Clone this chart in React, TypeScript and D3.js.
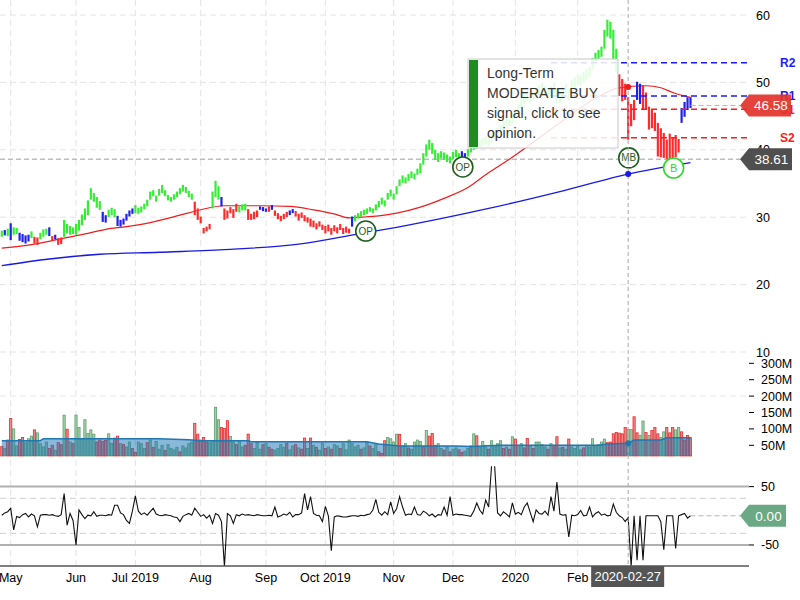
import React, { useEffect, useRef } from 'react';
import * as d3 from 'd3';

const FIRST_INDEX = -3; // first session sits 3 days before May 1, 2019 (index 0)

// [low, high, trend] per session; g = bullish, r = bearish, b = neutral
const priceBars: [number, number, string][] = [
  // late Apr 2019
  [27.1, 28.0, 'g'], [27.3, 28.1, 'b'], [27.2, 28.3, 'g'],
  // May
  [26.6, 29.1, 'b'], [27.4, 28.5, 'g'], [27.5, 28.4, 'g'], [26.5, 27.7, 'b'], [26.3, 27.5, 'b'], [26.1, 27.3, 'b'],
  [26.4, 27.4, 'b'], [26.9, 27.9, 'g'], [26.1, 27.1, 'r'], [25.9, 27.0, 'r'], [26.7, 27.7, 'g'], [27.1, 28.2, 'g'],
  [27.4, 28.3, 'g'], [27.2, 28.5, 'b'], [26.5, 27.2, 'r'], [26.7, 27.4, 'b'], [25.9, 26.9, 'r'], [26.0, 27.0, 'r'],
  [27.1, 29.6, 'g'], [27.6, 29.0, 'g'], [27.4, 28.7, 'g'], [27.5, 28.5, 'g'],
  // Jun
  [27.4, 29.0, 'g'], [28.0, 29.6, 'g'], [28.8, 30.4, 'g'], [29.6, 31.3, 'g'], [30.3, 32.5, 'g'], [32.6, 34.3, 'g'],
  [32.3, 33.6, 'g'], [31.4, 33.0, 'g'], [31.1, 32.4, 'g'], [29.3, 30.8, 'b'], [29.2, 30.3, 'b'], [30.0, 31.1, 'g'],
  [30.3, 31.4, 'g'], [30.0, 31.2, 'g'], [28.7, 30.2, 'b'], [28.6, 29.6, 'b'], [28.9, 29.8, 'b'], [29.5, 30.5, 'b'],
  [30.1, 31.0, 'b'], [30.5, 31.3, 'b'],
  // Jul
  [30.6, 31.8, 'g'], [30.5, 31.4, 'g'], [30.7, 31.6, 'g'], [31.2, 32.0, 'g'], [31.6, 32.6, 'g'], [32.6, 33.8, 'g'],
  [33.1, 34.0, 'g'], [32.3, 33.2, 'g'], [33.2, 34.2, 'g'], [33.6, 34.8, 'g'], [33.1, 34.0, 'g'], [32.5, 33.3, 'g'],
  [32.3, 33.0, 'g'], [32.6, 33.4, 'g'], [33.0, 33.8, 'g'], [33.4, 34.3, 'g'], [33.8, 34.8, 'g'], [33.6, 34.5, 'g'],
  [33.0, 33.9, 'g'], [32.6, 33.5, 'g'], [30.3, 32.3, 'r'], [29.6, 31.3, 'r'],
  // Aug
  [29.1, 30.1, 'r'], [27.6, 28.4, 'r'], [27.9, 28.6, 'r'], [28.2, 29.0, 'r'], [31.3, 33.8, 'g'], [33.0, 35.4, 'g'],
  [32.6, 34.6, 'g'], [31.6, 33.0, 'b'], [29.6, 31.3, 'r'], [29.8, 31.0, 'r'], [30.6, 31.5, 'r'], [29.9, 31.2, 'r'],
  [30.8, 32.0, 'r'], [30.7, 31.6, 'g'], [31.0, 31.9, 'g'], [31.0, 32.0, 'g'], [29.6, 31.2, 'r'], [29.6, 30.5, 'r'],
  [29.7, 30.8, 'r'], [30.0, 31.0, 'r'], [31.1, 31.6, 'b'], [30.9, 31.5, 'b'],
  // Sep
  [30.8, 31.3, 'b'], [30.8, 31.6, 'r'], [31.1, 31.8, 'b'], [30.2, 31.0, 'r'], [29.7, 30.6, 'r'], [29.4, 30.2, 'r'],
  [29.7, 30.5, 'r'], [30.0, 30.8, 'r'], [30.3, 31.0, 'b'], [30.6, 31.2, 'b'], [30.1, 30.9, 'r'], [29.5, 30.5, 'r'],
  [29.9, 30.7, 'r'], [29.4, 30.3, 'r'], [29.2, 30.0, 'r'], [28.6, 29.8, 'r'], [28.5, 29.5, 'r'], [28.2, 29.1, 'r'],
  [28.6, 29.4, 'r'], [28.1, 28.9, 'r'],
  // Oct
  [27.6, 28.7, 'r'], [27.9, 28.9, 'r'], [27.4, 28.4, 'r'], [27.9, 28.8, 'r'], [27.6, 28.5, 'r'], [28.1, 29.0, 'r'],
  [27.5, 28.4, 'r'], [27.7, 28.6, 'r'], [27.6, 28.3, 'r'], [28.6, 30.1, 'b'], [29.4, 30.3, 'g'], [29.8, 30.6, 'g'],
  [30.1, 30.9, 'g'], [30.3, 31.1, 'g'], [30.5, 31.3, 'g'], [30.8, 31.5, 'g'], [30.6, 31.3, 'g'], [31.0, 31.9, 'g'],
  [31.5, 32.4, 'g'], [31.9, 32.9, 'g'], [31.6, 32.5, 'g'], [32.6, 33.6, 'g'], [33.1, 34.1, 'g'],
  // Nov
  [32.6, 33.5, 'g'], [33.4, 34.6, 'g'], [34.6, 35.6, 'g'], [35.1, 36.2, 'g'], [35.0, 35.9, 'g'], [35.4, 36.4, 'g'],
  [35.8, 36.8, 'g'], [35.6, 36.5, 'g'], [36.3, 37.2, 'g'], [36.5, 38.0, 'g'], [37.8, 39.5, 'g'], [39.0, 40.8, 'g'],
  [40.0, 41.5, 'g'], [39.4, 41.0, 'g'], [38.5, 40.0, 'g'], [38.2, 39.5, 'g'], [38.7, 39.8, 'g'], [38.5, 39.6, 'g'],
  [38.2, 39.3, 'g'], [38.0, 39.0, 'g'],
  // Dec
  [38.6, 39.7, 'g'], [38.9, 40.0, 'g'], [38.5, 39.5, 'g'], [38.9, 39.8, 'b'], [38.6, 39.5, 'b'], [39.0, 40.1, 'g'],
  [39.6, 40.6, 'g'], [40.0, 41.0, 'g'], [40.2, 41.3, 'g'], [40.4, 41.5, 'g'], [40.7, 41.8, 'g'], [40.8, 42.0, 'g'],
  [40.6, 41.7, 'g'], [41.0, 42.4, 'g'], [41.6, 42.8, 'g'], [42.0, 43.3, 'g'], [42.5, 43.7, 'g'], [43.0, 44.4, 'g'],
  [43.6, 44.9, 'g'], [43.5, 44.6, 'g'], [44.0, 45.3, 'g'],
  // Jan 2020
  [44.6, 46.0, 'g'], [45.3, 46.8, 'g'], [46.0, 47.6, 'g'], [46.8, 48.3, 'g'], [47.3, 48.9, 'g'], [47.0, 48.5, 'g'],
  [47.4, 48.8, 'g'], [47.8, 49.2, 'g'], [48.1, 49.6, 'g'], [48.4, 49.9, 'g'], [48.0, 49.5, 'g'], [47.4, 49.0, 'g'],
  [47.8, 49.4, 'g'], [48.5, 50.0, 'g'], [47.0, 49.2, 'g'], [46.9, 48.7, 'g'], [47.6, 49.3, 'g'], [48.4, 49.8, 'g'],
  [47.3, 49.0, 'g'], [48.6, 50.3, 'g'], [49.1, 50.8, 'g'],
  // Feb
  [49.6, 51.2, 'g'], [49.5, 51.0, 'g'], [50.0, 51.6, 'g'], [50.5, 52.0, 'g'], [50.8, 52.3, 'g'], [52.0, 53.6, 'g'],
  [53.2, 54.4, 'g'], [53.5, 54.8, 'g'], [53.8, 55.3, 'g'], [55.0, 57.8, 'g'], [56.8, 59.3, 'g'], [56.5, 59.0, 'g'],
  [53.3, 57.8, 'g'], [51.5, 55.0, 'g'], [48.0, 51.2, 'r'], [47.2, 50.5, 'r'], [47.4, 49.8, 'r'], [41.5, 47.8, 'r'],
  [43.5, 46.8, 'r'],
  // Mar
  [44.4, 47.4, 'r'], [47.4, 50.1, 'b'], [46.8, 49.8, 'b'], [45.9, 49.6, 'r'], [46.0, 48.5, 'r'], [43.0, 46.4, 'r'],
  [43.2, 46.0, 'r'], [42.8, 45.5, 'r'], [39.0, 44.0, 'r'], [38.9, 43.2, 'r'], [38.8, 42.5, 'r'], [38.6, 41.5, 'r'],
  [38.6, 42.4, 'r'], [38.8, 41.8, 'r'], [38.9, 42.2, 'r'], [39.6, 41.6, 'r'], [44.0, 46.2, 'b'], [44.9, 47.1, 'b'],
  [45.9, 47.8, 'b'], [46.2, 47.8, 'b'],
];

// volume in millions, negative = down session
const volumes: number[] = [
  -46, 40, -66,
  -132, 100, 48, -68, -74, 58, 70, 78, -97, 88, 55, 45, 60, -40, -50, 35, -58, -52, 142, -99, 60, -55,
  142, 104, 70, 128, 86, 97, 84, -60, -66, -62, -65, 85, 56, -72, -78, 55, -52, 45, 60, -40,
  -28, 60, 55, 40, -58, 66, -44, 62, 38, 50, -34, 52, 40, 36, 44, -30, 48, 42, 55, 60, -117, -84,
  -66, -74, -60, 58, 65, 166, 128, -104, -101, -125, 77, 60, -52, 62, 45, -50, -84, -55, 40, 60, 38, -52,
  55, -44, -38, 35, 40, 52, 44, -56, 36, 48, -52, 42, -38, -72, 40, -72, 50, -44, 35, 56,
  -40, 45, -38, 52, 48, -40, 55, 36, 66, 55, 45, 50, -38, 42, 60, -48, 40, 55, -30, -25, -64, 74, 70,
  60, 84, -83, 48, 55, -42, 38, 60, 66, 62, -45, 95, -78, -86, -50, 55, 40, -35, 45, -30,
  38, 42, -36, -28, 32, 40, -48, 85, -79, 45, 62, 50, -38, 64, 48, 55, 64, -40, 45, -38, 76,
  -69, 50, 55, -42, -71, 48, -40, 60, 60, 52, 45, -38, 55, -50, -76, 42, -44, 38, -69, 45, 40,
  48, 36, -42, 50, 45, 70, 48, 52, 60, 69, -58, -60, -85, -89, -87, -85, -104, 98, 98,
  -137, -88, 80, 124, -89, 80, -95, -104, -85, 74, 91, -104, -88, -104, 97, 104, -91, -66, -80, -73,
];

const oscillator: number[] = [
  1, 5, 7,
  13, -24, -1, -3, 2, 4, -2, 3, 0, -19, 1, 2, 2, 1, 2, 0, -1, 2, 38, -16, 4, -8,
  -50, 10, 2, -5, 1, 0, 7, -1, 1, 1, 0, 2, 1, 18, 18, 5, 2, -8, -13, 8,
  34, 8, 2, 5, 1, 7, 13, 3, 1, 0, 2, 1, 0, -2, -3, -10, -1, 2, 4, 1, 13, 6,
  -1, 2, -4, 1, -13, 4, 1, -10, -87, 4, 0, -13, 2, 0, 3, 1, 2, 1, 0, 2, 1, 0,
  0, 1, 0, 15, -2, 0, 3, 1, 6, -2, 2, 2, 5, 38, 10, 33, 4, 1, 0, -10,
  16, 0, -60, -2, 0, -1, -2, -2, -1, 0, 0, -1, 1, 0, 2, 3, 10, 28, 6, 1, 7, 2, 24,
  4, 12, 33, 15, 1, 3, 2, 15, 2, 1, 8, 5, 0, 3, -2, 2, 1, 15, 1, 33,
  1, 3, 2, 2, 1, 0, -1, 8, 22, 10, 3, 27, 15, 87, 87, 5, 0, 7, 3, -2, 22,
  3, 6, 2, 15, 22, 6, -10, 10, 4, 3, 8, 1, 33, 8, 58, 3, 1, 2, -36, 1, 0,
  2, 9, 0, 1, 15, -2, 4, 7, 1, 3, 0, 1, 20, 6, 0, -3, -10, -3, -87,
  0, -76, 0, -76, 0, 0, 0, 0, 0, -10, -58, 0, 0, 0, -56, 0, 2, 4, -4, 0,
];

const monthLabels = ['May', 'Jun', 'Jul 2019', 'Aug', 'Sep', 'Oct 2019', 'Nov', 'Dec', '2020', 'Feb'];
const monthIndex = [0, 22, 42, 64, 86, 106, 129, 149, 170, 191];

const redMaIndex = [-3, 8, 18, 26, 32, 39, 47, 57, 63, 72, 84, 94, 102, 109, 114, 118, 124, 130, 138, 146, 154, 160, 168, 185, 196, 205, 214, 219, 223, 226, 229];
const redMaValue = [25.4, 26.0, 26.9, 27.6, 28.2, 28.6, 29.2, 30.3, 31.0, 31.7, 31.7, 31.6, 31.1, 30.5, 29.9, 30.0, 30.2, 30.6, 31.5, 32.8, 34.4, 36.3, 38.6, 44.0, 47.4, 49.2, 49.5, 49.2, 48.5, 48.1, 47.8];

const blueMaIndex = [-3, 13, 30, 50, 72, 97, 117, 130, 161, 185, 208, 229];
const blueMaValue = [22.8, 23.8, 24.5, 24.8, 25.2, 26.0, 27.5, 28.5, 31.3, 33.8, 36.4, 38.1];

const volAvgIndex = [-3, 10, 11, 50, 60, 64, 80, 81, 120, 124, 131, 150, 155, 165, 198, 201, 208, 210, 219, 221, 229];
const volAvgValue = [64, 64, 70, 70, 67, 64, 64, 61, 61, 54, 48, 48, 46, 50, 50, 54, 56, 66, 66, 73, 73];

const levelNames = ['R2', 'R1', 'S1', 'S2'];
const levelValues = [52.9, 48.0, 46.0, 41.8];
const levelStart = 182;

const signalLabels = ['OP', 'OP', 'MB', 'B'];
const signalIndex = [119.6, 152.3, 208.2, 223.3];
const signalPrice = [27.95, 37.45, 38.8, 37.3];

const priceTicks = [60, 50, 40, 30, 20, 10];
const volumeTicks = [300, 250, 200, 150, 100, 50];
const oscTicks = [50, -50];
const oscBands = [30, -30];

const lastPrice = 46.58;
const stopPrice = 38.61;
const lastOsc = 0;
const crosshairIndex = 208;
const crosshairDate = '2020-02-27';
const opinionLines = ['Long-Term', 'MODERATE BUY', 'signal, click to see', 'opinion.'];

const TREND_COLORS: Record<string, string> = { g: '#33ee33', r: '#ff2b2b', b: '#2020ee' };
const FONT = '"Liberation Sans", Arial, sans-serif';

const App: React.FC = () => {
  const svgRef = useRef<SVGSVGElement | null>(null);

  useEffect(() => {
    if (!svgRef.current) return;
    const svg = d3.select(svgRef.current);
    svg.selectAll('*').remove();

    const plotRight = 749;
    const x = d3.scaleLinear().domain([0, 191]).range([10.7, 577.7]);
    const yPrice = d3.scaleLinear().domain([10, 60]).range([352, 15]);
    const yVol = d3.scaleLinear().domain([0, 300]).range([461.7, 363.3]);
    const yOsc = d3.scaleLinear().domain([-85, 85]).range([565.4, 466.2]);
    const volBase = yVol(17.5);
    const idx = (k: number) => k + FIRST_INDEX;

    const defs = svg.append('defs');
    defs.append('clipPath').attr('id', 'osc-clip')
      .append('rect').attr('x', 0).attr('y', yOsc(85)).attr('width', plotRight).attr('height', yOsc(-85) - yOsc(85));

    // grid
    const grid = svg.append('g');
    grid.selectAll('.vgrid').data(monthIndex).enter().append('line')
      .attr('x1', d => x(d)).attr('x2', d => x(d)).attr('y1', 0).attr('y2', 566)
      .attr('stroke', '#e4e4e4').attr('stroke-dasharray', '6,4');
    grid.selectAll('.hgrid').data(priceTicks).enter().append('line')
      .attr('x1', 0).attr('x2', plotRight).attr('y1', d => yPrice(d)).attr('y2', d => yPrice(d))
      .attr('stroke', '#e4e4e4').attr('stroke-dasharray', '6,4');
    grid.append('line').attr('x1', 0).attr('x2', plotRight).attr('y1', yVol(200)).attr('y2', yVol(200))
      .attr('stroke', '#e8e8e8').attr('stroke-dasharray', '6,4');

    // stop level line
    svg.append('line').attr('x1', 0).attr('x2', 740).attr('y1', yPrice(stopPrice)).attr('y2', yPrice(stopPrice))
      .attr('stroke', '#bdbdbd').attr('stroke-width', 1.5).attr('stroke-dasharray', '5,3');

    // moving averages
    const maLine = d3.line<[number, number]>().x(d => x(d[0])).y(d => yPrice(d[1])).curve(d3.curveMonotoneX);
    svg.append('path').attr('d', maLine(blueMaIndex.map((d, k) => [d, blueMaValue[k]]) as [number, number][]))
      .attr('fill', 'none').attr('stroke', '#1a1ae0').attr('stroke-width', 1.3);
    svg.append('path').attr('d', maLine(redMaIndex.map((d, k) => [d, redMaValue[k]]) as [number, number][]))
      .attr('fill', 'none').attr('stroke', '#ee1c1c').attr('stroke-width', 1.2);

    // price bars
    svg.append('g').selectAll('line').data(priceBars).enter().append('line')
      .attr('x1', (d, k) => x(idx(k))).attr('x2', (d, k) => x(idx(k)))
      .attr('y1', d => yPrice(d[1])).attr('y2', d => yPrice(d[0]))
      .attr('stroke', d => TREND_COLORS[d[2]]).attr('stroke-width', 2.2);

    // support / resistance levels
    levelNames.forEach((name, k) => {
      const isR = name.startsWith('R');
      const col = isR ? '#1a1aff' : '#ff1a1a';
      svg.append('line').attr('x1', x(levelStart)).attr('x2', plotRight)
        .attr('y1', yPrice(levelValues[k])).attr('y2', yPrice(levelValues[k]))
        .attr('stroke', col).attr('stroke-width', 1.5).attr('stroke-dasharray', '6,4');
      svg.append('text').attr('x', 780).attr('y', yPrice(levelValues[k])).attr('dy', '0.36em')
        .text(name).style('font-family', FONT).style('font-size', '12px').style('font-weight', 'bold').style('fill', col);
    });

    // opinion tooltip
    const tip = svg.append('g');
    tip.append('rect').attr('x', 468).attr('y', 59).attr('width', 150).attr('height', 89)
      .attr('fill', '#ffffff').attr('fill-opacity', 0.86).attr('stroke', '#c8c8c8');
    tip.append('rect').attr('x', 469).attr('y', 60).attr('width', 9).attr('height', 87).attr('fill', '#1e8c1e');
    tip.selectAll('text').data(opinionLines).enter().append('text')
      .attr('x', 487).attr('y', (d, k) => 78 + k * 20)
      .text(d => d).style('font-family', FONT).style('font-size', '14px').style('fill', '#333');

    // signal markers
    signalLabels.forEach((lab, k) => {
      const cx = x(signalIndex[k]);
      const cy = yPrice(signalPrice[k]);
      const col = lab === 'B' ? '#2ed82e' : '#1e5e1e';
      svg.append('circle').attr('cx', cx).attr('cy', cy).attr('r', 10)
        .attr('fill', '#fff').attr('stroke', col).attr('stroke-width', 1.6);
      svg.append('text').attr('x', cx).attr('y', cy).attr('dy', '0.36em').attr('text-anchor', 'middle')
        .text(lab).style('font-family', FONT).style('font-size', lab.length > 1 ? '10px' : '11px')
        .style('fill', col);
    });

    // volume bars
    svg.append('g').selectAll('rect').data(volumes).enter().append('rect')
      .attr('x', (d, k) => x(idx(k)) - 1.1).attr('width', 2.2)
      .attr('y', d => yVol(Math.abs(d))).attr('height', d => Math.max(0, volBase - yVol(Math.abs(d))))
      .attr('fill', d => (d < 0 ? '#f08a8a' : '#a4d2a8'))
      .attr('stroke', d => (d < 0 ? '#e82a2a' : '#5e9e70')).attr('stroke-width', 0.8);
    const volPts = volAvgIndex.map((d, k) => [d, volAvgValue[k]] as [number, number]);
    svg.append('path').attr('d', d3.area<[number, number]>().x(d => x(d[0])).y0(volBase).y1(d => yVol(d[1]))(volPts))
      .attr('fill', '#1f77b4').attr('fill-opacity', 0.52);
    svg.append('path').attr('d', d3.line<[number, number]>().x(d => x(d[0])).y(d => yVol(d[1]))(volPts))
      .attr('fill', 'none').attr('stroke', '#1f77b4').attr('stroke-width', 1.5);

    // oscillator panel
    oscTicks.forEach(t => {
      svg.append('line').attr('x1', 0).attr('x2', plotRight).attr('y1', yOsc(t)).attr('y2', yOsc(t))
        .attr('stroke', '#b0b0b0').attr('stroke-width', 2);
    });
    oscBands.forEach(t => {
      svg.append('line').attr('x1', 0).attr('x2', plotRight).attr('y1', yOsc(t)).attr('y2', yOsc(t))
        .attr('stroke', '#cfcfcf').attr('stroke-dasharray', '6,4');
    });
    svg.append('path').attr('clip-path', 'url(#osc-clip)')
      .attr('d', d3.line<number>().x((d, k) => x(idx(k))).y(d => yOsc(d))(oscillator))
      .attr('fill', 'none').attr('stroke', '#111').attr('stroke-width', 1.1);

    // last value guide lines
    const lastX = x(idx(priceBars.length - 1));
    svg.append('line').attr('x1', lastX).attr('x2', 740).attr('y1', yPrice(lastPrice)).attr('y2', yPrice(lastPrice))
      .attr('stroke', '#b5b5b5').attr('stroke-dasharray', '5,3');
    svg.append('line').attr('x1', lastX).attr('x2', 740).attr('y1', yOsc(lastOsc)).attr('y2', yOsc(lastOsc))
      .attr('stroke', '#b5b5b5').attr('stroke-dasharray', '5,3');

    // crosshair
    const cx = x(crosshairIndex);
    svg.append('line').attr('x1', cx).attr('x2', cx).attr('y1', 0).attr('y2', 566)
      .attr('stroke', '#a8a8a8').attr('stroke-dasharray', '4,3');
    const redAt = d3.scaleLinear().domain(redMaIndex).range(redMaValue)(crosshairIndex);
    const blueAt = d3.scaleLinear().domain(blueMaIndex).range(blueMaValue)(crosshairIndex);
    const volAt = d3.scaleLinear().domain(volAvgIndex).range(volAvgValue)(crosshairIndex);
    svg.append('circle').attr('cx', cx).attr('cy', yPrice(redAt)).attr('r', 3).attr('fill', '#ee1c1c');
    svg.append('circle').attr('cx', cx).attr('cy', yPrice(blueAt)).attr('r', 3).attr('fill', '#1a1ae0');
    svg.append('circle').attr('cx', cx).attr('cy', yVol(volAt)).attr('r', 3).attr('fill', '#1f77b4');

    // x axis
    svg.append('line').attr('x1', 0).attr('x2', plotRight).attr('y1', 566).attr('y2', 566)
      .attr('stroke', '#000').attr('stroke-width', 1.2);
    svg.selectAll('.mlabel').data(monthLabels).enter().append('text')
      .attr('x', (d, k) => x(monthIndex[k])).attr('y', 582).attr('text-anchor', 'middle')
      .text(d => d).style('font-family', FONT).style('font-size', '12.5px').style('fill', '#000');
    svg.append('rect').attr('x', cx - 37).attr('y', 566).attr('width', 73).attr('height', 21).attr('fill', '#555');
    svg.append('text').attr('x', cx - 0.5).attr('y', 576.5).attr('dy', '0.36em').attr('text-anchor', 'middle')
      .text(crosshairDate).style('font-family', FONT).style('font-size', '13px').style('fill', '#fff');

    // right axes
    svg.selectAll('.plabel').data(priceTicks).enter().append('text')
      .attr('x', 756).attr('y', d => yPrice(d)).attr('dy', '0.36em')
      .text(d => d).style('font-family', FONT).style('font-size', '12.5px').style('fill', '#000');
    const tickRows = [
      ...volumeTicks.map(v => ({ y: yVol(v), label: `${v}M` })),
      ...oscTicks.map(v => ({ y: yOsc(v), label: `${v}` })),
    ];
    tickRows.forEach(r => {
      svg.append('line').attr('x1', 749).attr('x2', 754).attr('y1', r.y).attr('y2', r.y).attr('stroke', '#000');
      svg.append('text').attr('x', 761).attr('y', r.y).attr('dy', '0.36em').text(r.label)
        .style('font-family', FONT).style('font-size', '12.5px').style('fill', '#000');
    });

    // value tags
    const tag = (y: number, right: number, fill: string, label: string, opacity = 1) => {
      svg.append('path')
        .attr('d', `M740,${y} L749,${y - 11} L${right},${y - 11} L${right},${y + 11} L749,${y + 11} Z`)
        .attr('fill', fill).attr('fill-opacity', opacity);
      svg.append('text').attr('x', (749 + right) / 2 + 1).attr('y', y).attr('dy', '0.36em').attr('text-anchor', 'middle')
        .text(label).style('font-family', FONT).style('font-size', '13.5px').style('fill', '#fff');
    };
    tag(yPrice(lastPrice), 791, '#e3322b', lastPrice.toFixed(2), 0.92);
    tag(yPrice(stopPrice), 792, '#4f4f4f', stopPrice.toFixed(2));
    tag(yOsc(lastOsc), 786, '#6aa983', lastOsc.toFixed(2));
  }, []);

  return (
    <div style={{ position: 'absolute', left: 0, top: 0, width: 800, height: 600, background: '#fff' }}>
      <svg ref={svgRef} width={800} height={600} style={{ display: 'block' }}></svg>
    </div>
  );
};

export default App;
